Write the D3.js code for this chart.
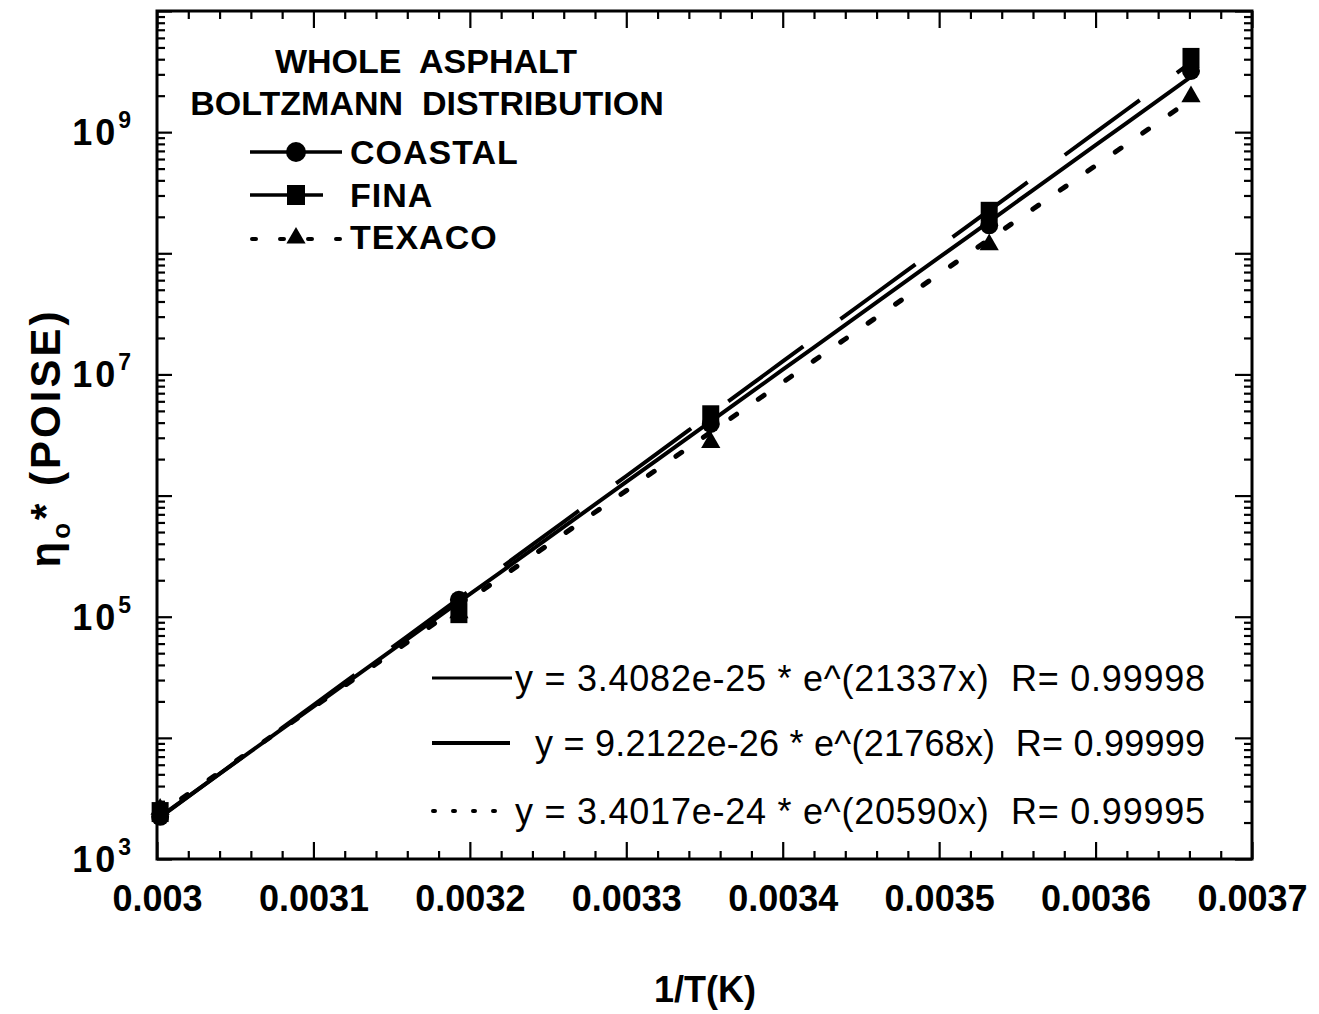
<!DOCTYPE html>
<html>
<head>
<meta charset="utf-8">
<script src="https://cdn.jsdelivr.net/npm/d3@7"></script>
<style>
  html, body { margin: 0; padding: 0; background: #fff; }
  svg { display: block; }
  text { font-family: "Liberation Sans", Arial, Helvetica, sans-serif; fill: #000; }
</style>
</head>
<body>
<svg id="chart" width="1319" height="1014"></svg>
<script>
// Inverse temperature, 1/T (K^-1), for 60, 40, 25, 10 and 0 degC
const invT = [0.003002, 0.003193, 0.003354, 0.003532, 0.003661];

// Zero-shear viscosity eta_o* (poise) of each whole asphalt
const coastal = [2230, 1.38e5, 3.9e6, 1.7e8, 3.2e9];
const fina    = [2440, 1.07e5, 4.6e6, 2.2e8, 4.1e9];
const texaco  = [2630, 1.10e5, 2.8e6, 1.2e8, 2.0e9];

// Exponential fits y = a * e^(b x)
const fitNames  = ["COASTAL", "FINA", "TEXACO"];
const fitA      = [3.4082e-25, 9.2122e-26, 3.4017e-24];
const fitB      = [21337, 21768, 20590];
const fitR      = ["0.99998", "0.99999", "0.99995"];
const fitALabel = ["3.4082e-25", "9.2122e-26", "3.4017e-24"];

// Axis ticks and labels
const xMajor = [0.003, 0.0031, 0.0032, 0.0033, 0.0034, 0.0035, 0.0036, 0.0037];
const xLabels = ["0.003", "0.0031", "0.0032", "0.0033", "0.0034", "0.0035", "0.0036", "0.0037"];
const yLabelTicks = [1e3, 1e5, 1e7, 1e9];
const yLabelExp = ["3", "5", "7", "9"];

const svg = d3.select("#chart");
const plotL = 157, plotR = 1252, plotT = 11, plotB = 859;

const x = d3.scaleLinear().domain([0.003, 0.0037]).range([plotL, plotR]);
const y = d3.scaleLog().domain([1e3, 1e10]).range([plotB, plotT]);

// minor x ticks every 0.00002
const xMinor = d3.range(0, 36).map(i => 0.003 + i * 0.00002).filter(v => !xMajor.some(m => Math.abs(m - v) < 1e-9));
// log ticks: decades and the 2..9 subdivisions
const yMajor = d3.range(3, 11).map(e => Math.pow(10, e));
const yMinor = [];
for (let e = 3; e < 10; e++) for (let k = 2; k <= 9; k++) yMinor.push(k * Math.pow(10, e));

function styleAxis(g) {
  g.select(".domain").remove();
  g.selectAll(".tick line").attr("stroke", "#000").attr("stroke-width", 2.2);
}

// bottom axis
svg.append("g").attr("transform", `translate(0,${plotB})`)
  .call(d3.axisBottom(x).tickValues(xMinor).tickSize(-8).tickFormat(""))
  .call(styleAxis);
svg.append("g").attr("transform", `translate(0,${plotB})`)
  .call(d3.axisBottom(x).tickValues(xMajor).tickSize(-17).tickPadding(26)
        .tickFormat((d, i) => xLabels[i]))
  .call(styleAxis)
  .call(g => g.selectAll(".tick text")
     .attr("font-size", 36).attr("font-weight", "bold")
     .attr("fill", "#000")
     .attr("font-family", "'Liberation Sans', Arial, sans-serif"));

// top axis
svg.append("g").attr("transform", `translate(0,${plotT})`)
  .call(d3.axisTop(x).tickValues(xMinor).tickSize(-8).tickFormat(""))
  .call(styleAxis);
svg.append("g").attr("transform", `translate(0,${plotT})`)
  .call(d3.axisTop(x).tickValues(xMajor).tickSize(-17).tickFormat(""))
  .call(styleAxis);

// left axis
svg.append("g").attr("transform", `translate(${plotL},0)`)
  .call(d3.axisLeft(y).tickValues(yMinor).tickSize(-8).tickFormat(""))
  .call(styleAxis);
svg.append("g").attr("transform", `translate(${plotL},0)`)
  .call(d3.axisLeft(y).tickValues(yMajor).tickSize(-15).tickFormat(""))
  .call(styleAxis);

// right axis
svg.append("g").attr("transform", `translate(${plotR},0)`)
  .call(d3.axisRight(y).tickValues(yMinor).tickSize(-8).tickFormat(""))
  .call(styleAxis);
svg.append("g").attr("transform", `translate(${plotR},0)`)
  .call(d3.axisRight(y).tickValues(yMajor).tickSize(-17).tickFormat(""))
  .call(styleAxis);

// frame
svg.append("rect")
  .attr("x", plotL).attr("y", plotT)
  .attr("width", plotR - plotL).attr("height", plotB - plotT)
  .attr("fill", "none").attr("stroke", "#000").attr("stroke-width", 3);

// y tick labels 10^n
const yl = svg.append("g");
yLabelTicks.forEach((v, i) => {
  const t = yl.append("text")
    .attr("x", 131).attr("y", y(v) + 13)
    .attr("text-anchor", "end")
    .attr("font-size", 36).attr("font-weight", "bold");
  t.append("tspan").attr("letter-spacing", 3).text("10");
  t.append("tspan").attr("font-size", 23).attr("dy", -17).text(yLabelExp[i]);
});

// axis titles
svg.append("text")
  .attr("x", 705).attr("y", 1002)
  .attr("text-anchor", "middle")
  .attr("font-size", 36).attr("font-weight", "bold")
  .text("1/T(K)");

const yt = svg.append("text")
  .attr("transform", "translate(60,438) rotate(-90)")
  .attr("text-anchor", "middle")
  .attr("font-size", 42).attr("font-weight", "bold")
  .attr("letter-spacing", 3);
yt.append("tspan").text("η");
yt.append("tspan").attr("font-size", 26).attr("dy", 10).text("o");
yt.append("tspan").attr("dy", -10).text("* (POISE)");

// fitted curves
const xs = d3.range(0, 34).map(i => 0.003 + i * 0.00002).concat([0.003661]);
const line = d3.line().x(d => x(d[0])).y(d => y(d[1]));
const fitStyles = [
  { width: 4, dash: null, offset: 0, cap: "butt" },
  { width: 4, dash: "93,46", offset: 126, cap: "butt" },
  { width: 5, dash: "7,26.4", offset: 3.4, cap: "round" }
];
fitA.forEach((a, i) => {
  const pts = xs.map(v => [v, a * Math.exp(fitB[i] * v)]);
  const s = fitStyles[i];
  const p = svg.append("path")
    .attr("d", line(pts))
    .attr("fill", "none").attr("stroke", "#000")
    .attr("stroke-width", s.width)
    .attr("stroke-linecap", s.cap);
  if (s.dash) p.attr("stroke-dasharray", s.dash).attr("stroke-dashoffset", s.offset);
});

// markers
const tri = d3.symbol().type(d3.symbolTriangle).size(160);
function drawMarkers(vals, kind) {
  const g = svg.append("g");
  vals.forEach((v, i) => {
    const cx = x(invT[i]), cy = y(v);
    if (kind === "circle") {
      g.append("circle").attr("cx", cx).attr("cy", cy).attr("r", 9).attr("fill", "#000");
    } else if (kind === "square") {
      g.append("rect").attr("x", cx - 8.5).attr("y", cy - 10).attr("width", 17).attr("height", 20).attr("fill", "#000");
    } else {
      g.append("path").attr("d", tri).attr("transform", `translate(${cx},${cy + 1})`).attr("fill", "#000");
    }
  });
}
drawMarkers(texaco, "triangle");
drawMarkers(coastal, "circle");
drawMarkers(fina, "square");

// upper-left legend
svg.append("text").attr("x", 426).attr("y", 73).attr("text-anchor", "middle")
  .attr("font-size", 34).attr("font-weight", "bold").style("white-space", "pre")
  .text("WHOLE  ASPHALT");
svg.append("text").attr("x", 427).attr("y", 115).attr("text-anchor", "middle")
  .attr("font-size", 34).attr("font-weight", "bold").style("white-space", "pre")
  .text("BOLTZMANN  DISTRIBUTION");

const legY = [152, 195, 237];
const lg = svg.append("g");
// coastal
lg.append("line").attr("x1", 250).attr("x2", 342).attr("y1", legY[0]).attr("y2", legY[0])
  .attr("stroke", "#000").attr("stroke-width", 3.5);
lg.append("circle").attr("cx", 296).attr("cy", legY[0]).attr("r", 10).attr("fill", "#000");
// fina
lg.append("line").attr("x1", 250).attr("x2", 323).attr("y1", legY[1]).attr("y2", legY[1])
  .attr("stroke", "#000").attr("stroke-width", 3.5);
lg.append("rect").attr("x", 287).attr("y", legY[1] - 10).attr("width", 18).attr("height", 20).attr("fill", "#000");
// texaco
lg.append("line").attr("x1", 252).attr("x2", 342).attr("y1", legY[2] + 2).attr("y2", legY[2] + 2)
  .attr("stroke", "#000").attr("stroke-width", 4).attr("stroke-linecap", "round")
  .attr("stroke-dasharray", "4,24");
lg.append("path").attr("d", tri).attr("transform", `translate(296,${legY[2] + 1})`).attr("fill", "#000");
fitNames.forEach((n, i) => {
  lg.append("text").attr("x", 350).attr("y", legY[i] + 12)
    .attr("font-size", 34).attr("font-weight", "bold").attr("letter-spacing", 1)
    .text(n);
});

// fit equations legend
const eqY = [678, 743, 811];
const eqX = [515, 535, 515];
const eqW = [690, 670, 690];
const eg = svg.append("g");
eg.append("line").attr("x1", 432).attr("x2", 512).attr("y1", eqY[0]).attr("y2", eqY[0])
  .attr("stroke", "#000").attr("stroke-width", 3);
eg.append("line").attr("x1", 432).attr("x2", 510).attr("y1", eqY[1]).attr("y2", eqY[1])
  .attr("stroke", "#000").attr("stroke-width", 4);
eg.append("line").attr("x1", 433).attr("x2", 512).attr("y1", eqY[2]).attr("y2", eqY[2])
  .attr("stroke", "#000").attr("stroke-width", 4).attr("stroke-linecap", "round")
  .attr("stroke-dasharray", "2,18");
fitA.forEach((a, i) => {
  eg.append("text")
    .attr("x", eqX[i]).attr("y", eqY[i] + 13)
    .attr("font-size", 36)
    .attr("textLength", eqW[i]).attr("lengthAdjust", "spacing")
    .style("white-space", "pre")
    .text(`y = ${fitALabel[i]} * e^(${fitB[i]}x)  R= ${fitR[i]}`);
});
</script>
</body>
</html>
